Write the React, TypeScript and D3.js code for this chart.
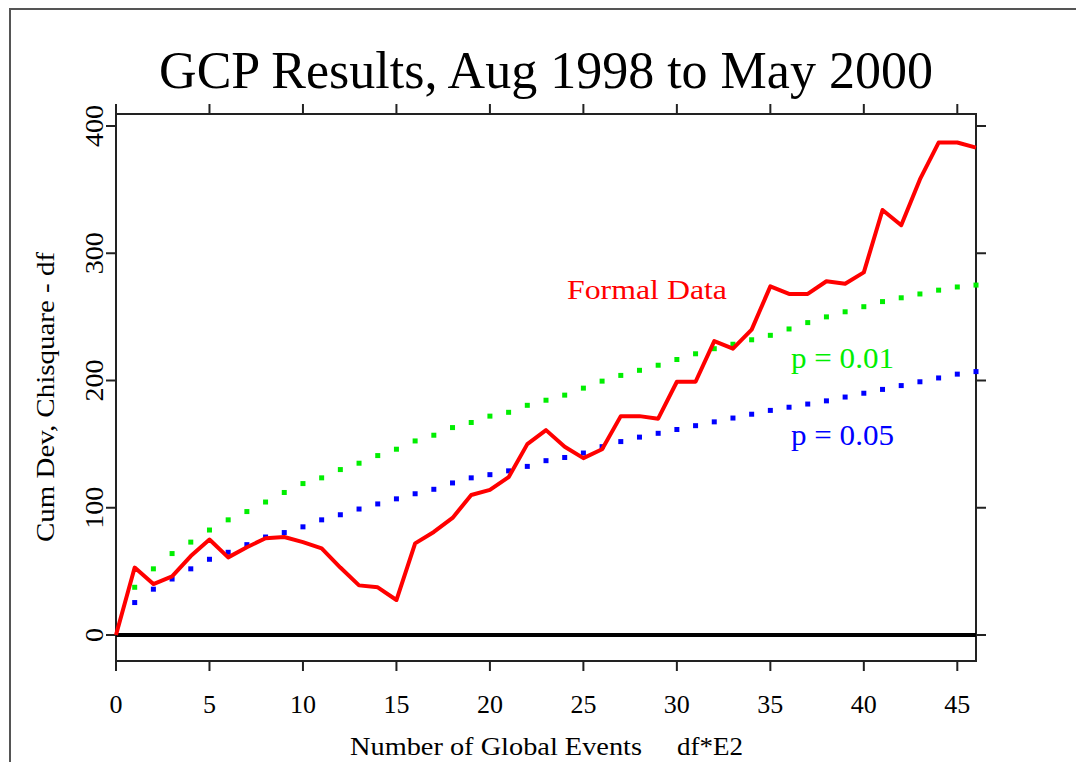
import React, { useRef, useEffect } from "react";
import * as d3 from "d3";

// cumulative deviation of the formal data, one value per 100 df (x = 0..46)
const formalData = [
  0, 53, 40, 46, 62, 75, 61, 69, 76, 77, 73, 68, 53, 39, 37.5, 27.5, 72, 81,
  92, 110, 114, 124, 150, 161, 148, 139, 146, 172, 172, 170, 199, 199, 231,
  225, 240, 274, 268, 268, 278, 276, 285, 334, 322, 358, 387, 387, 383,
];

// significance envelopes, x = 1..46
const p01 = [
  37.5, 52, 64, 73, 82.5, 90.5, 97, 104.5, 112, 119, 123.5, 130, 135, 141,
  146, 152.5, 157, 163, 167, 172, 175, 180.5, 184.5, 188.5, 194, 199.5, 204,
  208, 212, 216.5, 221, 225, 228.5, 232, 235.5, 240.5, 245.5, 250, 254, 258,
  262, 265, 268, 271, 273.5, 275,
];
const p05 = [
  25.5, 36, 44, 52, 59.5, 65, 71, 77, 80.5, 85, 90.5, 94.5, 99, 103, 107, 111,
  114.5, 119.5, 123.5, 126, 129, 132.5, 137, 139.5, 143, 148, 152, 155.5,
  158.5, 161.5, 164.5, 167.5, 170.5, 173.5, 176.5, 179, 181.5, 184, 187, 190,
  193, 196, 199, 202, 205, 207,
];

const xTicks = [0, 5, 10, 15, 20, 25, 30, 35, 40, 45];
const yTicks = [0, 100, 200, 300, 400];

const FONT = "'Liberation Serif', 'DejaVu Serif', serif";

const App = () => {
  const svgRef = useRef<SVGSVGElement>(null);

  const width = 1076;
  const height = 762;
  const box = { left: 116, right: 976, top: 114, bottom: 661 };

  useEffect(() => {
    const svg = d3.select(svgRef.current);
    svg.selectAll("*").remove();

    const x = d3.scaleLinear().domain([0, 46]).range([box.left, box.right]);
    const y = d3.scaleLinear().domain([0, 400]).range([635, 126]);

    // outer frame (top + left edges only visible)
    svg
      .append("path")
      .attr("d", `M10,${height} L10,9 L${width},9`)
      .attr("fill", "none")
      .attr("stroke", "#555")
      .attr("stroke-width", 2);

    // title
    svg
      .append("text")
      .attr("x", 546)
      .attr("y", 88)
      .attr("text-anchor", "middle")
      .style("font-family", FONT)
      .style("font-size", "52px")
      .text("GCP Results, Aug 1998 to May 2000");

    // plot box
    svg
      .append("rect")
      .attr("x", box.left)
      .attr("y", box.top)
      .attr("width", box.right - box.left)
      .attr("height", box.bottom - box.top)
      .attr("fill", "none")
      .attr("stroke", "#222")
      .attr("stroke-width", 2);

    const tickLen = 10;
    // x ticks top and bottom
    xTicks.forEach((t) => {
      svg
        .append("line")
        .attr("x1", x(t))
        .attr("x2", x(t))
        .attr("y1", box.top)
        .attr("y2", box.top - tickLen)
        .attr("stroke", "#222")
        .attr("stroke-width", 2);
      svg
        .append("line")
        .attr("x1", x(t))
        .attr("x2", x(t))
        .attr("y1", box.bottom)
        .attr("y2", box.bottom + tickLen)
        .attr("stroke", "#222")
        .attr("stroke-width", 2);
      svg
        .append("text")
        .attr("x", x(t))
        .attr("y", 713)
        .attr("text-anchor", "middle")
        .style("font-family", FONT)
        .style("font-size", "26px")
        .text(t);
    });

    // y ticks left and right
    yTicks.forEach((t) => {
      svg
        .append("line")
        .attr("x1", box.left)
        .attr("x2", box.left - tickLen)
        .attr("y1", y(t))
        .attr("y2", y(t))
        .attr("stroke", "#222")
        .attr("stroke-width", 2);
      svg
        .append("line")
        .attr("x1", box.right)
        .attr("x2", box.right + tickLen)
        .attr("y1", y(t))
        .attr("y2", y(t))
        .attr("stroke", "#222")
        .attr("stroke-width", 2);
      svg
        .append("text")
        .attr("transform", `translate(103,${y(t)}) rotate(-90)`)
        .attr("text-anchor", "middle")
        .attr("textLength", String(t).length * 14)
        .attr("lengthAdjust", "spacingAndGlyphs")
        .style("font-family", FONT)
        .style("font-size", "25px")
        .text(t);
    });

    // zero line
    svg
      .append("line")
      .attr("x1", box.left)
      .attr("x2", box.right)
      .attr("y1", y(0))
      .attr("y2", y(0))
      .attr("stroke", "#000")
      .attr("stroke-width", 4);

    // axis titles
    svg
      .append("text")
      .attr("transform", "translate(54,397) rotate(-90)")
      .attr("text-anchor", "middle")
      .attr("textLength", 290)
      .attr("lengthAdjust", "spacingAndGlyphs")
      .style("font-family", FONT)
      .style("font-size", "25px")
      .text("Cum Dev, Chisquare - df");

    svg
      .append("text")
      .attr("x", 350)
      .attr("y", 755)
      .attr("textLength", 292)
      .attr("lengthAdjust", "spacingAndGlyphs")
      .style("font-family", FONT)
      .style("font-size", "25px")
      .text("Number of Global Events");
    svg
      .append("text")
      .attr("x", 677)
      .attr("y", 755)
      .attr("textLength", 66)
      .attr("lengthAdjust", "spacingAndGlyphs")
      .style("font-family", FONT)
      .style("font-size", "25px")
      .text("df*E2");

    // dotted envelopes
    const drawDots = (vals: number[], color: string) => {
      svg
        .append("g")
        .selectAll("rect")
        .data(vals)
        .enter()
        .append("rect")
        .attr("x", (d, i) => x(i + 1) - 2.5)
        .attr("y", (d) => y(d) - 2.5)
        .attr("width", 5)
        .attr("height", 5)
        .attr("fill", color);
    };
    drawDots(p01, "#00ee00");
    drawDots(p05, "#0000ff");

    // formal data line
    const line = d3
      .line<number>()
      .x((d, i) => x(i))
      .y((d) => y(d));

    svg
      .append("path")
      .attr("d", line(formalData))
      .attr("fill", "none")
      .attr("stroke", "#ff0000")
      .attr("stroke-width", 4)
      .attr("stroke-linejoin", "round");

    // labels
    svg
      .append("text")
      .attr("x", 567)
      .attr("y", 299)
      .attr("textLength", 160)
      .attr("lengthAdjust", "spacingAndGlyphs")
      .style("font-family", FONT)
      .style("font-size", "27px")
      .style("fill", "#ff0000")
      .text("Formal Data");

    svg
      .append("text")
      .attr("x", 791)
      .attr("y", 368)
      .attr("textLength", 103)
      .attr("lengthAdjust", "spacingAndGlyphs")
      .style("font-family", FONT)
      .style("font-size", "30px")
      .style("fill", "#00ee00")
      .text("p = 0.01");

    svg
      .append("text")
      .attr("x", 791)
      .attr("y", 445)
      .attr("textLength", 103)
      .attr("lengthAdjust", "spacingAndGlyphs")
      .style("font-family", FONT)
      .style("font-size", "30px")
      .style("fill", "#0000ff")
      .text("p = 0.05");
  }, []);

  return (
    <svg
      ref={svgRef}
      width={width}
      height={height}
      style={{ position: "absolute", left: 0, top: 0, background: "#fff" }}
    />
  );
};

export default App;
